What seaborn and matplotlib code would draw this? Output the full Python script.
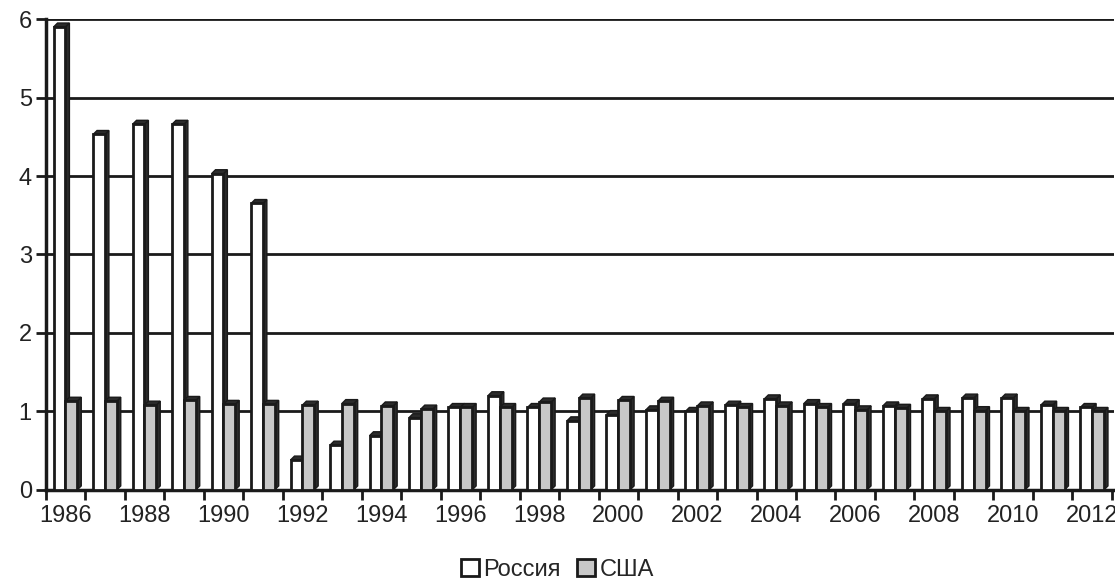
import pandas as pd
import numpy as np
import matplotlib
matplotlib.use("Agg")
import matplotlib.pyplot as plt
from matplotlib.patches import Polygon
import seaborn as sns

years = list(range(1986, 2013))
russia = [5.9, 4.53, 4.66, 4.66, 4.03, 3.65, 0.38, 0.57, 0.69, 0.92, 1.05,
          1.2, 1.05, 0.88, 0.96, 1.02, 1.0, 1.08, 1.16, 1.1, 1.1, 1.07, 1.16,
          1.17, 1.17, 1.08, 1.05]
usa = [1.13, 1.13, 1.08, 1.14, 1.09, 1.09, 1.08, 1.1, 1.07, 1.03, 1.05,
       1.05, 1.12, 1.17, 1.14, 1.13, 1.07, 1.05, 1.07, 1.05, 1.02, 1.04, 1.0,
       1.01, 1.0, 1.0, 1.0]
series = ["Россия", "США"]
colors = ["#ffffff", "#c8c8c8"]

df = pd.DataFrame({
    "year": [str(y) for y in years] * 2,
    "value": russia + usa,
    "country": [series[0]] * len(years) + [series[1]] * len(years),
})

sns.set_style("white")
plt.rcParams["font.family"] = ["Liberation Sans", "DejaVu Sans"]

fig = plt.figure(figsize=(11.15, 5.79), dpi=100)
ax = fig.add_axes([0.041, 0.154, 0.958, 0.813])

sns.barplot(data=df, x="year", y="value", hue="country", palette=colors,
            width=0.6, edgecolor="#1a1a1a", linewidth=2, legend=False,
            ax=ax, zorder=3)

# fake 3D depth on each bar
dx, dy = 0.1, 0.05
n = len(years)
for i, p in enumerate(ax.patches):
    z = 3 if i < n else 5
    p.set_zorder(z)
    x0 = p.get_x()
    x1 = x0 + p.get_width()
    h = p.get_height()
    side = Polygon([(x1, 0), (x1 + dx, dy), (x1 + dx, h + dy), (x1, h)],
                   closed=True, facecolor="#2b2b2b", edgecolor="#1a1a1a",
                   linewidth=1, zorder=z - 0.5)
    top = Polygon([(x0, h), (x0 + dx, h + dy), (x1 + dx, h + dy), (x1, h)],
                  closed=True, facecolor="#2b2b2b", edgecolor="#1a1a1a",
                  linewidth=1, zorder=z - 0.5)
    ax.add_patch(side)
    ax.add_patch(top)

ax.set_xlim(-0.5, n - 0.45)
ax.set_ylim(0, 6)
ax.set_yticks(range(0, 7))
ax.yaxis.grid(True, color="#1a1a1a", linewidth=2, zorder=0)
ax.set_axisbelow(True)

# ticks at category boundaries, labels every other year
ax.set_xticks(np.arange(-0.5, n, 1.0))
ax.set_xticklabels([])
ax.set_xticks(np.arange(0, n, 2), minor=True)
ax.set_xticklabels([str(y) for y in years[::2]], minor=True)
ax.tick_params(axis="x", which="major", length=7, width=2, color="#1a1a1a",
               direction="out", bottom=True)
ax.tick_params(axis="x", which="minor", length=0, labelsize=17, pad=11,
               labelcolor="#222222")
ax.tick_params(axis="y", length=7, width=2, color="#1a1a1a", labelsize=17,
               labelcolor="#222222", left=True, pad=3)

ax.set_xlabel("")
ax.set_ylabel("")
for s in ["top", "right"]:
    ax.spines[s].set_visible(False)
for s in ["left", "bottom"]:
    ax.spines[s].set_color("#1a1a1a")
    ax.spines[s].set_linewidth(2.5)

handles = [plt.Rectangle((0, 0), 1, 1, facecolor=c, edgecolor="#1a1a1a",
                         linewidth=2) for c in colors]
fig.legend(handles, series, loc="lower center", bbox_to_anchor=(0.5, -0.04),
           ncol=2, frameon=False, fontsize=17, handlelength=0.75,
           handleheight=0.75, handletextpad=0.2, columnspacing=0.7)

fig.savefig("out.png", dpi=100)
